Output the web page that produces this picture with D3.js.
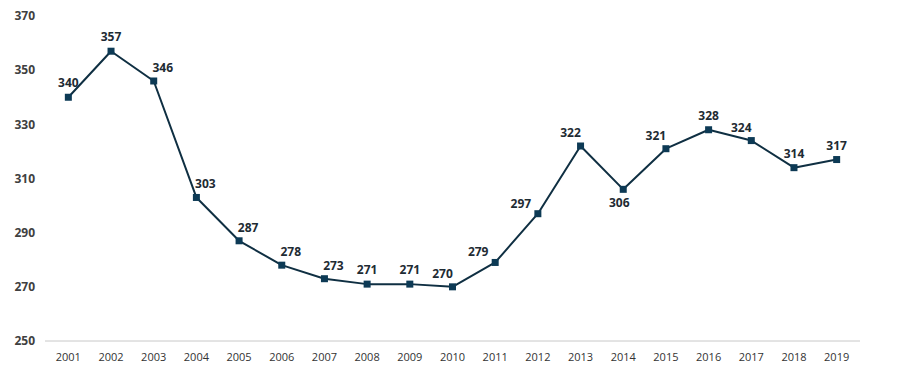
<!DOCTYPE html>
<html>
<head>
<meta charset="utf-8">
<script src="https://cdn.jsdelivr.net/npm/d3@7"></script>
<style>
  body { margin: 0; background: #fff; }
  svg { display: block; font-family: "Open Sans", sans-serif; }
</style>
</head>
<body>
<div id="chart"></div>
<script>
// data
var years = ["2001","2002","2003","2004","2005","2006","2007","2008","2009","2010",
             "2011","2012","2013","2014","2015","2016","2017","2018","2019"];
var values = [340, 357, 346, 303, 287, 278, 273, 271, 271, 270,
              279, 297, 322, 306, 321, 328, 324, 314, 317];
var yTicks = [250, 270, 290, 310, 330, 350, 370];

// where each value label sits relative to its point
var labelPlace = ["t","t","tr","tr","tr","tr","tr","t","t","tl",
                  "l","l","tl","b","tl","t","tl","t","t"];
var placeOffset = {
  t:  [0, -10],
  tr: [9, -9],
  tl: [-10, -9],
  l:  [-17, -6],
  b:  [-4, 18]
};

var svgWidth = 915, svgHeight = 365;

var svg = d3.select("#chart")
  .append("svg")
  .attr("width", svgWidth)
  .attr("height", svgHeight);

var x = d3.scaleBand()
  .domain(years)
  .range([47, 858]);

var y = d3.scaleLinear()
  .domain([250, 370])
  .range([341, 16]);

// baseline
svg.append("line")
  .attr("x1", 45).attr("x2", 860)
  .attr("y1", y(250)).attr("y2", y(250))
  .attr("stroke", "#c8c8c8")
  .attr("stroke-width", 1);

// y tick labels
svg.selectAll(".ylab")
  .data(yTicks)
  .enter()
  .append("text")
  .attr("x", 35)
  .attr("y", d => y(d))
  .attr("dy", "0.35em")
  .attr("text-anchor", "end")
  .attr("font-size", 12)
  .attr("font-weight", 700)
  .attr("fill", "#404040")
  .text(d => d);

// x tick labels
svg.selectAll(".xlab")
  .data(years)
  .enter()
  .append("text")
  .attr("x", d => x(d) + x.bandwidth() / 2)
  .attr("y", 357)
  .attr("dy", "0.35em")
  .attr("text-anchor", "middle")
  .attr("font-size", 11)
  .attr("fill", "#333")
  .text(d => d);

var cx = (d, i) => x(years[i]) + x.bandwidth() / 2;

var line = d3.line()
  .x((d, i) => cx(d, i))
  .y(d => y(d));

svg.append("path")
  .datum(values)
  .attr("d", line)
  .attr("fill", "none")
  .attr("stroke", "#0f2f42")
  .attr("stroke-width", 2)
  .attr("stroke-linejoin", "round");

svg.selectAll(".pt")
  .data(values)
  .enter()
  .append("rect")
  .attr("x", (d, i) => cx(d, i) - 3.5)
  .attr("y", d => y(d) - 3.5)
  .attr("width", 7)
  .attr("height", 7)
  .attr("fill", "#0d3a55");

svg.selectAll(".vlab")
  .data(values)
  .enter()
  .append("text")
  .attr("x", (d, i) => cx(d, i) + placeOffset[labelPlace[i]][0])
  .attr("y", (d, i) => y(d) + placeOffset[labelPlace[i]][1])
  .attr("text-anchor", "middle")
  .attr("font-size", 12)
  .attr("font-weight", 700)
  .attr("fill", "#1e2b33")
  .text(d => d);
</script>
</body>
</html>
